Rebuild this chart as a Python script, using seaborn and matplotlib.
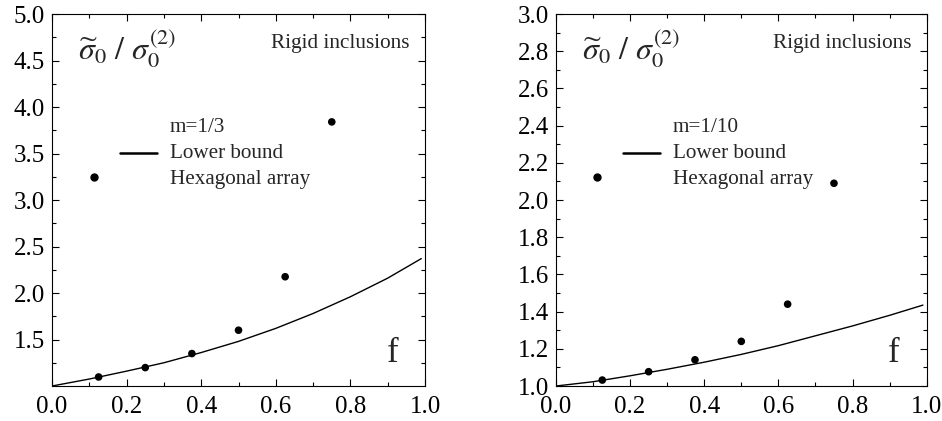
import matplotlib
matplotlib.use("Agg")
import matplotlib.pyplot as plt
import numpy as np
import pandas as pd
import seaborn as sns
from matplotlib.lines import Line2D

# ---- data ----
curve_f = [0.0, 0.1, 0.2, 0.3, 0.4, 0.5, 0.6, 0.7, 0.8, 0.9, 0.99]
left_bound = [1.0, 1.075, 1.16, 1.25, 1.36, 1.48, 1.62, 1.78, 1.96, 2.16, 2.37]
right_bound = [1.0, 1.023, 1.055, 1.09, 1.128, 1.17, 1.217, 1.27, 1.323, 1.38, 1.435]

hex_f = [0.125, 0.25, 0.375, 0.5, 0.625, 0.75]
left_hex = [1.097, 1.198, 1.349, 1.60, 2.175, 3.84]
right_hex = [1.032, 1.077, 1.141, 1.24, 1.44, 2.09]

left_m = "m=1/3"
right_m = "m=1/10"
left_yticks = [1.5, 2.0, 2.5, 3.0, 3.5, 4.0, 4.5, 5.0]
right_yticks = [1.0, 1.2, 1.4, 1.6, 1.8, 2.0, 2.2, 2.4, 2.6, 2.8, 3.0]
xticks = [0.0, 0.2, 0.4, 0.6, 0.8, 1.0]

sns.set_style("ticks")
plt.rcParams["font.family"] = ["Liberation Serif", "DejaVu Serif"]
plt.rcParams["mathtext.fontset"] = "stix"

fig = plt.figure(figsize=(9.42, 4.21), dpi=100)
ax1 = fig.add_axes([0.0552, 0.0831, 0.396, 0.8836])
ax2 = fig.add_axes([0.5902, 0.0831, 0.3935, 0.8836])


def draw(ax, bound, hexv, mlabel, yticks, ylim, yminor):
    dfc = pd.DataFrame({"f": curve_f, "v": bound})
    dfh = pd.DataFrame({"f": hex_f, "v": hexv})
    sns.lineplot(data=dfc, x="f", y="v", ax=ax, color="black", linewidth=1.0,
                 estimator=None, sort=True)
    sns.scatterplot(data=dfh, x="f", y="v", ax=ax, color="black", s=30,
                    edgecolor="none", zorder=3)
    ax.set_xlim(0, 1.0)
    ax.set_ylim(*ylim)
    ax.set_xticks(xticks)
    ax.set_xticks(np.arange(0.1, 1.0, 0.2), minor=True)
    ax.set_yticks(yticks)
    ax.set_yticks(yminor, minor=True)
    ax.set_xticklabels([f"{t:.1f}" for t in xticks])
    ax.set_yticklabels([f"{t:.1f}" for t in yticks])
    ax.set_xlabel("")
    ax.set_ylabel("")
    for s in ax.spines.values():
        s.set_visible(True)
        s.set_linewidth(0.8)
        s.set_color("black")
    ax.tick_params(which="both", direction="in", top=True, right=True,
                   colors="black", labelsize=18)
    ax.tick_params(which="major", length=5, width=0.8)
    ax.tick_params(axis="y", which="major", pad=5)
    ax.tick_params(axis="x", which="major", pad=7)
    ax.tick_params(which="minor", length=3, width=0.8)

    # annotations
    ax.text(0.07, 0.878, r"$\widetilde{\sigma}_0\ /\ \sigma_0^{(2)}$",
            transform=ax.transAxes, fontsize=23, ha="left", va="baseline")
    ax.text(0.958, 0.922, "Rigid inclusions", transform=ax.transAxes,
            fontsize=15.3, ha="right", va="center")
    ax.text(0.912, 0.065, "f", transform=ax.transAxes, fontsize=25,
            ha="center", va="baseline")
    # legend block
    ax.text(0.316, 0.694, mlabel, transform=ax.transAxes, fontsize=15.2,
            ha="left", va="center")
    ax.text(0.316, 0.626, "Lower bound", transform=ax.transAxes, fontsize=15.2,
            ha="left", va="center")
    ax.text(0.316, 0.556, "Hexagonal array", transform=ax.transAxes,
            fontsize=15.2, ha="left", va="center")
    ax.add_line(Line2D([0.182, 0.281], [0.626, 0.626], transform=ax.transAxes,
                       color="black", linewidth=1.8))
    ax.add_line(Line2D([0.112], [0.562], transform=ax.transAxes,
                       color="black", marker="o", markersize=5,
                       linestyle="none"))


draw(ax1, left_bound, left_hex, left_m, left_yticks, (1.0, 5.0),
     np.arange(1.25, 5.0, 0.5))
draw(ax2, right_bound, right_hex, right_m, right_yticks, (1.0, 3.0),
     np.arange(1.1, 3.0, 0.2))

fig.savefig("out.png", dpi=100)
